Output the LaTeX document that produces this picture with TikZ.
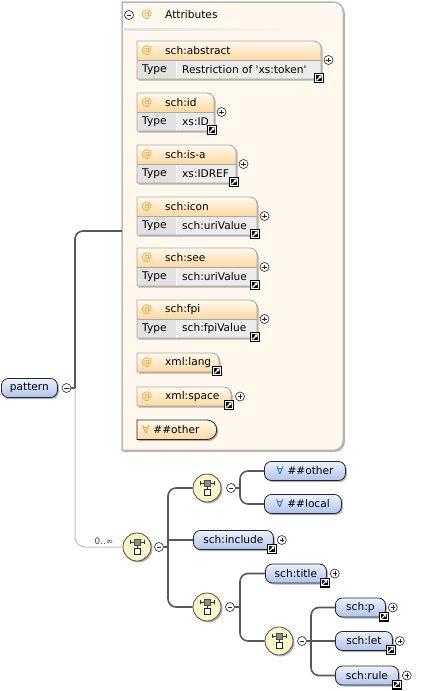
\documentclass[tikz,border=0pt]{standalone}
\usepackage{fontspec}
\setmainfont{DejaVu Sans}
\usetikzlibrary{shadows, arrows.meta}

\definecolor{hdtop}{HTML}{FFFAF0}
\definecolor{hdbot}{HTML}{FDD8A0}
\definecolor{typefill}{HTML}{E2E2E2}
\definecolor{valfill}{HTML}{ECECEC}
\definecolor{cardline}{HTML}{A8A8A8}
\definecolor{attrfill}{HTML}{FFF8EE}
\definecolor{attrline}{HTML}{B8B8B8}
\definecolor{elemtop}{HTML}{EDF2FC}
\definecolor{elembot}{HTML}{AFC3EC}
\definecolor{seqfill}{HTML}{FBF6C8}
\definecolor{connc}{HTML}{585858}
\definecolor{atorange}{HTML}{E8A030}
\definecolor{anyblue}{HTML}{2F5FC0}

\tikzset{
    every node/.style = {font=\fontsize{10.6}{12}\selectfont, inner sep=3pt},
    conn/.style = {draw=connc, line width=1.6pt, rounded corners=8pt},
    thinconn/.style = {draw=black!25, line width=1pt, rounded corners=10pt},
    shadowed/.style = {drop shadow={shadow xshift=1.5pt, shadow yshift=-1.5pt, fill=black, opacity=0.3}},
    elem/.style = {shadowed, draw=black!85, line width=0.8pt, rounded corners=7pt,
        top color=elemtop, bottom color=elembot, anchor=west,
        minimum width=#1, minimum height=19pt, inner xsep=1pt, inner ysep=0pt},
    seqc/.style = {shadowed, circle, draw=black!70, line width=0.8pt, fill=seqfill,
        minimum size=28pt, inner sep=0pt,
        path picture={
            \begin{scope}[shift={(path picture bounding box.center)}, line width=0.6pt]
                \draw [black!80] (-7, -5) -- (7, -5);
                \draw [black!80] (-7, -7) -- (-7, -3);
                \draw [black!80] (7, -7) -- (7, -3);
                \draw [black!80] (0, -2) -- (0, 1);
                \filldraw [fill=black!45, draw=black!70] (-3, -8) rectangle (3, -2);
                \filldraw [fill=white, draw=black!85] (-3, 1) rectangle (3, 7);
            \end{scope}
        }},
    plusico/.style = {circle, draw=black!85, fill=white, line width=0.6pt,
        minimum size=9pt, inner sep=0pt,
        path picture={
            \draw [line width=0.6pt] ([xshift=-2.2pt]path picture bounding box.center) -- ([xshift=2.2pt]path picture bounding box.center);
            \draw [line width=0.6pt] ([yshift=-2.2pt]path picture bounding box.center) -- ([yshift=2.2pt]path picture bounding box.center);
        }},
    minusico/.style = {circle, draw=black!85, fill=white, line width=0.6pt,
        minimum size=9pt, inner sep=0pt,
        path picture={
            \draw [line width=0.6pt] ([xshift=-2.2pt]path picture bounding box.center) -- ([xshift=2.2pt]path picture bounding box.center);
        }},
    linkico/.style = {draw=black, fill=black, line width=0.5pt, minimum size=9pt, inner sep=0pt,
        path picture={
            \draw [white, line width=0.5pt] ([shift={(-3.3pt,-3.3pt)}]path picture bounding box.center) rectangle ([shift={(3.3pt,3.3pt)}]path picture bounding box.center);
            \draw [white, line width=1.1pt, -{Triangle[length=3pt, width=3.6pt]}] ([shift={(-2.4pt,-2.4pt)}]path picture bounding box.center) -- ([shift={(2.8pt,2.8pt)}]path picture bounding box.center);
        }},
    atsign/.style = {text=atorange},
    cardframe/.style = {draw=cardline, line width=0.8pt},
    attrframe/.style = {shadowed, fill=attrfill, draw=attrline, line width=1.5pt}
}

% attribute with a type row: name, top, right, label, type
\newcommand{\attrcard}[5]{%
    \path [shadowed, fill=white] (137, #2+38) -- (137, #2) -- (#3-7, #2) arc [start angle=90, end angle=0, radius=7pt] -- (#3, #2+38) -- cycle;
    \path [top color=hdtop, bottom color=hdbot] (137, #2+19) -- (137, #2) -- (#3-7, #2) arc [start angle=90, end angle=0, radius=7pt] -- (#3, #2+19) -- cycle;
    \fill [typefill] (137, #2+19) rectangle (176, #2+38);
    \fill [valfill] (176, #2+19) rectangle (#3, #2+38);
    \draw [white, line width=1pt] (176, #2+20) -- (176, #2+38);
    \draw [cardframe] (137, #2+38) -- (137, #2) -- (#3-7, #2) arc [start angle=90, end angle=0, radius=7pt] -- (#3, #2+38) -- cycle;
    \draw [cardframe] (137, #2+19) -- (#3, #2+19);
    \node [atsign] (#1-at) at (147, #2+9.5) {@};
    \node [anchor=west] (#1) at (162, #2+9.5) {#4};
    \node [anchor=west] (#1-tl) at (139, #2+28.5) {Type};
    \node [anchor=west] (#1-tv) at (179, #2+28.5) {#5};
    \node [linkico] (#1-lnk) at (#3-2, #2+37) {};
    \node [plusico] (#1-plus) at (#3+7.5, #2+19) {};
}

% attribute without a type row: name, top, right, label
\newcommand{\attrline}[4]{%
    \path [shadowed, top color=hdtop, bottom color=hdbot, cardframe] (137, #2+19) -- (137, #2) -- (#3-7, #2) arc [start angle=90, end angle=0, radius=7pt] -- (#3, #2+19) -- cycle;
    \node [atsign] (#1-at) at (147, #2+9.5) {@};
    \node [anchor=west] (#1) at (162, #2+9.5) {#4};
    \node [linkico] (#1-lnk) at (#3-2, #2+18) {};
}

\begin{document}
\begin{tikzpicture}[x = 1pt, y = -1pt]
    \useasboundingbox (0, 0) rectangle (430, 691);

    % attributes group
    \node [minimum width=221pt, minimum height=448pt, anchor=north west, inner sep=0pt] (attrs) at (122, 2) {};
    \draw [attrframe] (attrs.south west) -- (attrs.north west) -- ([xshift=-10pt]attrs.north east)
        arc [start angle=90, end angle=0, radius=10pt] -- ([yshift=10pt]attrs.south east)
        arc [start angle=0, end angle=-90, radius=10pt] -- cycle;
    \shade [left color=black!12, right color=attrfill] (124, 28.5) rectangle (310, 30);
    \node [minusico] (attrs-m) at (129, 15) {};
    \node [atsign] (attrs-at) at (147, 15) {@};
    \node [anchor=west] (attrs-title) at (162, 15) {Attributes};

    \attrcard{abstract}{41}{321}{sch:abstract}{Restriction of \textquotesingle xs:token\textquotesingle}
    \attrcard{id}{93}{214}{sch:id}{xs:ID}
    \attrcard{isa}{145}{236}{sch:is-a}{xs:IDREF}
    \attrcard{icon}{197}{257}{sch:icon}{sch:uriValue}
    \attrcard{see}{248}{257}{sch:see}{sch:uriValue}
    \attrcard{fpi}{300}{257}{sch:fpi}{sch:fpiValue}
    \attrline{lang}{353}{219}{xml:lang}
    \attrline{space}{387}{231}{xml:space}
    \node [plusico] (space-plus) at (240, 396.5) {};

    \path [shadowed, top color=hdtop, bottom color=hdbot, draw=black!85, line width=0.8pt]
        (137, 439.5) -- (137, 420) -- (207, 420) arc [start angle=90, end angle=-90, radius=9.75pt] -- cycle;
    \node [anchor=west] (anyattr) at (139, 429.75) {\textcolor{atorange}{∀}\hspace{4pt}\#\#other};

    % element and model groups
    \node [elem=56pt] (pattern) at (1, 388) {pattern};
    \node [minusico] (pattern-m) at (66.5, 388) {};
    \coordinate (pattern-j) at (75, 388);
    \coordinate (attrs-in) at (122, 231);

    \node [seqc] (s0) at (137, 547) {};
    \node [minusico] (s0-m) at (159, 547) {};
    \coordinate (s0-j) at (168, 547);
    \node [font=\fontsize{9}{10}\selectfont, text=black!75] (s0-card) at (104, 541) {0..∞};

    \node [seqc] (c1) at (207, 488) {};
    \node [minusico] (c1-m) at (231, 488) {};
    \coordinate (c1-j) at (240, 488);
    \node [elem=81pt] (other) at (264, 471) {\textcolor{anyblue}{∀}\hspace{4pt}\#\#other};
    \node [elem=77pt] (local) at (264, 504) {\textcolor{anyblue}{∀}\hspace{4pt}\#\#local};

    \node [elem=80pt] (incl) at (193, 540) {sch:include};
    \node [linkico] (incl-lnk) at ([xshift=-2pt, yshift=1pt]incl.south east) {};
    \node [plusico] (incl-plus) at ([xshift=8pt]incl.east) {};

    \node [seqc] (c3) at (207, 607) {};
    \node [minusico] (c3-m) at (230, 607) {};
    \coordinate (c3-j) at (240, 607);
    \node [elem=61pt] (title) at (265, 573.5) {sch:title};
    \node [linkico] (title-lnk) at ([xshift=-2pt, yshift=1pt]title.south east) {};
    \node [plusico] (title-plus) at ([xshift=8pt]title.east) {};

    \node [seqc] (c4) at (279, 641) {};
    \node [minusico] (c4-m) at (302, 641) {};
    \coordinate (c4-j) at (311, 641);
    \node [elem=50pt] (p) at (335, 607.5) {sch:p};
    \node [linkico] (p-lnk) at ([xshift=-2pt, yshift=1pt]p.south east) {};
    \node [plusico] (p-plus) at ([xshift=7pt]p.east) {};
    \node [elem=57pt] (let) at (335, 641) {sch:let};
    \node [linkico] (let-lnk) at ([xshift=-2pt, yshift=1pt]let.south east) {};
    \node [plusico] (let-plus) at ([xshift=7pt]let.east) {};
    \node [elem=63pt] (rule) at (335, 675.5) {sch:rule};
    \node [linkico] (rule-lnk) at ([xshift=-2pt, yshift=1pt]rule.south east) {};
    \node [plusico] (rule-plus) at ([xshift=8pt]rule.east) {};

    % connectors
    \draw [thinconn] (pattern-j) |- (s0.west);
    \draw [conn] (pattern-m.east) -- (pattern-j);
    \draw [conn] (pattern-j) |- (attrs-in);

    \draw [conn] (s0-m.east) -- (s0-j);
    \draw [conn] (c1.west) -| (s0-j) |- (c3.west);
    \draw [conn] (s0-j |- incl.west) -- (incl.west);

    \draw [conn] (c1-m.east) -- (c1-j);
    \draw [conn] (other.west) -| (c1-j) |- (local.west);

    \draw [conn] (c3-m.east) -- (c3-j);
    \draw [conn] (title.west) -| (c3-j) |- (c4.west);

    \draw [conn] (c4-m.east) -- (c4-j);
    \draw [conn] (p.west) -| (c4-j) |- (rule.west);
    \draw [conn] (c4-j) -- (let.west);
\end{tikzpicture}
\end{document}
